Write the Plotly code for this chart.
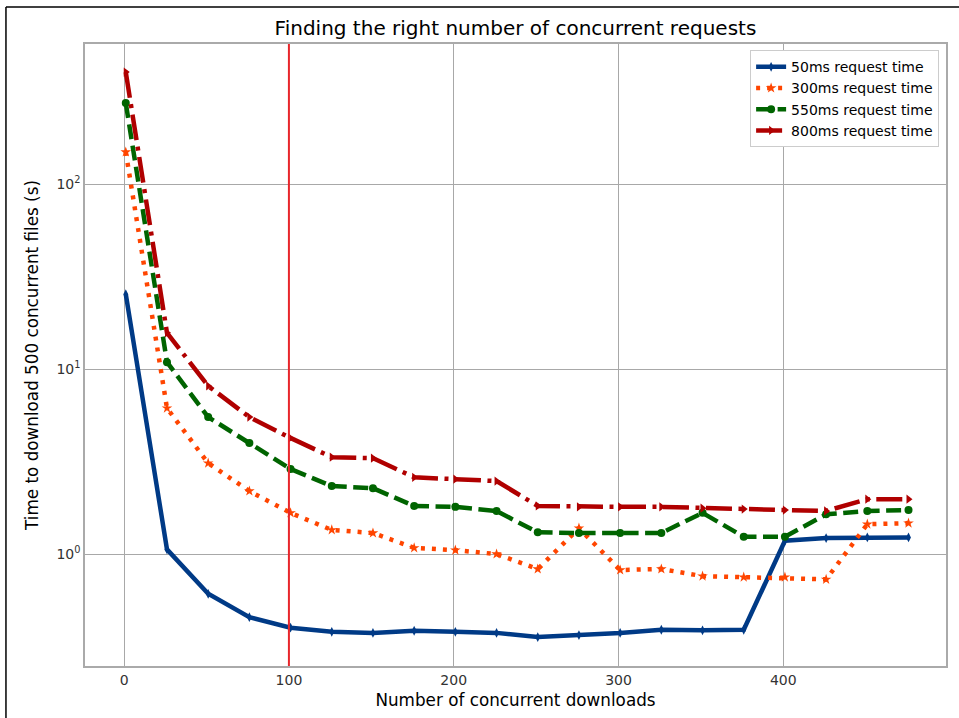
import plotly.graph_objects as go

concurrency = [1, 26, 51, 76, 101, 126, 151, 176, 201, 226,
               251, 276, 301, 326, 351, 376, 401, 426, 451, 476]

t_50ms = [25.4, 1.06, 0.61, 0.456, 0.40, 0.38, 0.375, 0.385, 0.38, 0.375,
          0.356, 0.365, 0.375, 0.39, 0.387, 0.39, 1.18, 1.22, 1.23, 1.23]
t_300ms = [149, 6.15, 3.1, 2.19, 1.67, 1.35, 1.30, 1.08, 1.05, 1.0,
           0.83, 1.38, 0.82, 0.83, 0.76, 0.75, 0.75, 0.73, 1.45, 1.47]
t_550ms = [274, 10.9, 5.5, 3.98, 2.88, 2.33, 2.27, 1.82, 1.80, 1.71,
           1.31, 1.30, 1.30, 1.30, 1.67, 1.24, 1.24, 1.64, 1.71, 1.73]
t_800ms = [403, 15.7, 8.1, 5.5, 4.24, 3.34, 3.3, 2.6, 2.54, 2.48,
           1.82, 1.80, 1.80, 1.80, 1.77, 1.75, 1.73, 1.71, 1.98, 1.98]

series_names = ["50ms request time", "300ms request time",
                "550ms request time", "800ms request time"]
marked_concurrency = 100

x_ticks = [0, 100, 200, 300, 400]
y_ticks = [1, 10, 100]
y_tick_text = ["10<sup>0</sup>", "10<sup>1</sup>", "10<sup>2</sup>"]

FONT = "DejaVu Sans"

styles = [
    dict(color="#003a86", dash="solid", symbol="diamond-tall", size=7),
    dict(color="#ff4500", dash="4px,7px", symbol="star", size=8),
    dict(color="#006400", dash="15px,6.5px", symbol="circle", size=8),
    dict(color="#b00000", dash="26px,6.5px,4px,6.5px", symbol="triangle-right", size=8),
]

fig = go.Figure()
for name, ys, st in zip(series_names, [t_50ms, t_300ms, t_550ms, t_800ms], styles):
    fig.add_trace(go.Scatter(
        x=concurrency, y=ys, name=name, mode="lines+markers",
        line=dict(color=st["color"], width=4.5, dash=st["dash"]),
        marker=dict(color=st["color"], symbol=st["symbol"], size=st["size"],
                    line=dict(width=0)),
    ))

# vertical marker line
fig.add_shape(type="line", xref="x", yref="paper",
              x0=marked_concurrency, x1=marked_concurrency, y0=0, y1=1,
              line=dict(color="#e8262b", width=2))

# outer frame (left/top) of the original image
fig.add_shape(type="line", xref="paper", yref="paper",
              x0=-0.0918, x1=-0.0918, y0=-0.2, y1=1.0595,
              line=dict(color="black", width=1.5))
fig.add_shape(type="line", xref="paper", yref="paper",
              x0=-0.0918, x1=1.1, y0=1.0595, y1=1.0595,
              line=dict(color="black", width=1.5))

fig.update_layout(
    width=959, height=718,
    margin=dict(l=85, r=13, t=44, b=52, autoexpand=False),
    paper_bgcolor="white", plot_bgcolor="white",
    font=dict(family=FONT, size=14, color="#333333"),
    title=dict(text="Finding the right number of concurrent requests",
               x=0.5375, xanchor="center", y=0.961, yanchor="middle",
               font=dict(family=FONT, size=20, color="black")),
    legend=dict(x=0.992, y=0.99, xanchor="right", yanchor="top",
                bgcolor="white", bordercolor="#cccccc", borderwidth=1,
                font=dict(family=FONT, size=14, color="black"),
                tracegroupgap=0, itemwidth=30),
    showlegend=True,
)

fig.update_xaxes(
    range=[-23.75, 498.75], tickvals=x_ticks, automargin=False,
    showgrid=True, gridcolor="#a8a8a8", gridwidth=1.2,
    showline=True, linecolor="#aaaaaa", linewidth=1.5, mirror=True,
    zeroline=False, ticks="", ticklen=0,
    tickfont=dict(family=FONT, size=14, color="#333333"),
    title=dict(text="Number of concurrent downloads",
               font=dict(family=FONT, size=16.8, color="black"), standoff=8),
)
fig.update_yaxes(
    type="log", range=[-0.605, 2.757], automargin=False,
    tickvals=y_ticks, ticktext=y_tick_text,
    showgrid=True, gridcolor="#a8a8a8", gridwidth=1.2,
    showline=True, linecolor="#aaaaaa", linewidth=1.5, mirror=True,
    zeroline=False, ticks="", ticklen=0,
    tickfont=dict(family=FONT, size=14, color="#333333"),
    title=dict(text="Time to download 500 concurrent files (s)",
               font=dict(family=FONT, size=16.8, color="black"), standoff=14),
)

fig.write_html(
    "out.html",
    config={"displayModeBar": False},
    post_script="document.body.style.margin='0';document.body.style.padding='0';",
)
